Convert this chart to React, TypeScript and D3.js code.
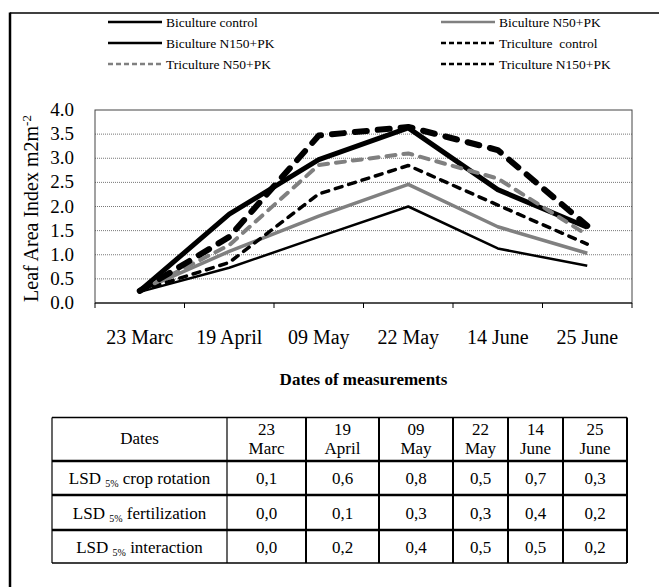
import React, { useEffect, useRef } from 'react';
import * as d3 from 'd3';

const dates = ['23 Marc', '19 April', '09 May', '22 May', '14 June', '25 June'];
const dateTop = ['23', '19', '09', '22', '14', '25'];
const dateBottom = ['Marc', 'April', 'May', 'May', 'June', 'June'];

const bicultureControl = [0.23, 0.73, 1.37, 2.0, 1.13, 0.77];
const bicultureN50 = [0.25, 1.07, 1.8, 2.46, 1.58, 1.03];
const bicultureN150 = [0.25, 1.84, 2.97, 3.63, 2.35, 1.57];
const tricultureControl = [0.25, 0.84, 2.26, 2.85, 2.03, 1.22];
const tricultureN50 = [0.25, 1.2, 2.86, 3.1, 2.58, 1.41];
const tricultureN150 = [0.25, 1.37, 3.47, 3.65, 3.17, 1.6];

const yTicks = [0, 0.5, 1, 1.5, 2, 2.5, 3, 3.5, 4];

const lsdRows = ['crop rotation', 'fertilization', 'interaction'];
const lsdCropRotation = ['0,1', '0,6', '0,8', '0,5', '0,7', '0,3'];
const lsdFertilization = ['0,0', '0,1', '0,3', '0,3', '0,4', '0,2'];
const lsdInteraction = ['0,0', '0,2', '0,4', '0,5', '0,5', '0,2'];

interface Series {
  name: string;
  values: number[];
  color: string;
  width: number;
  dash: string | null;
}

const series: Series[] = [
  { name: 'Biculture control', values: bicultureControl, color: '#000', width: 2.5, dash: null },
  { name: 'Biculture N50+PK', values: bicultureN50, color: '#808080', width: 3.5, dash: null },
  { name: 'Biculture N150+PK', values: bicultureN150, color: '#000', width: 5, dash: null },
  { name: 'Triculture  control', values: tricultureControl, color: '#000', width: 3.5, dash: '7,7' },
  { name: 'Triculture N50+PK', values: tricultureN50, color: '#808080', width: 4, dash: '9,8' },
  { name: 'Triculture N150+PK', values: tricultureN150, color: '#000', width: 6, dash: '12,11' },
];

const W = 659;
const H = 587;
const FONT = "'Liberation Serif', 'Times New Roman', serif";

const Chart: React.FC = () => {
  const svgRef = useRef<SVGSVGElement>(null);

  useEffect(() => {
    if (!svgRef.current) return;
    const svg = d3.select(svgRef.current);
    svg.selectAll('*').remove();

    const txt = (sel: d3.Selection<any, any, any, any>) =>
      sel.append('text').style('font-family', FONT);

    // outer frame (top and left only visible)
    svg.append('line').attr('x1', 10).attr('x2', W).attr('y1', 13).attr('y2', 13)
      .attr('stroke', '#000').attr('stroke-width', 1.5);
    svg.append('line').attr('x1', 10).attr('x2', 10).attr('y1', 12.5).attr('y2', H)
      .attr('stroke', '#000').attr('stroke-width', 2.5);

    // legend
    const legend = svg.selectAll('.legend')
      .data(series)
      .enter()
      .append('g')
      .attr('class', 'legend')
      .attr('transform', (d, i) => `translate(${i % 2 === 0 ? 108 : 441}, ${22 + Math.floor(i / 2) * 21})`);

    legend.append('line')
      .attr('x1', 0).attr('x2', 54)
      .attr('stroke', d => d.color)
      .attr('stroke-width', 2.5)
      .attr('stroke-dasharray', d => (d.dash ? '5,3' : null));

    legend.append('text')
      .style('font-family', FONT)
      .attr('x', 58)
      .attr('y', 4.5)
      .attr('font-size', '13.5px')
      .style('white-space', 'pre')
      .text(d => d.name);

    // plot area
    const left = 95, right = 632, top = 110, bottom = 303;
    const x = d3.scaleBand<string>().domain(dates).range([left, right]);
    const y = d3.scaleLinear().domain([0, 4]).range([bottom, top]);

    svg.append('g')
      .selectAll('line')
      .data(yTicks.filter(t => t > 0 && t < 4))
      .enter()
      .append('line')
      .attr('x1', left).attr('x2', right)
      .attr('y1', d => y(d)).attr('y2', d => y(d))
      .attr('stroke', '#777')
      .attr('stroke-width', 1)
      .attr('stroke-dasharray', '1,1');

    svg.append('rect')
      .attr('x', left).attr('y', top)
      .attr('width', right - left).attr('height', bottom - top)
      .attr('fill', 'none').attr('stroke', '#444').attr('stroke-width', 1);

    svg.append('line').attr('x1', left).attr('x2', right).attr('y1', bottom).attr('y2', bottom)
      .attr('stroke', '#000').attr('stroke-width', 1.2);

    // x ticks at band edges
    const edges = dates.map(d => x(d) as number).concat([right]);
    svg.append('g')
      .selectAll('line')
      .data(edges)
      .enter()
      .append('line')
      .attr('x1', d => d).attr('x2', d => d)
      .attr('y1', bottom).attr('y2', bottom + 5)
      .attr('stroke', '#000');

    svg.append('g')
      .selectAll('text')
      .data(yTicks)
      .enter()
      .append('text')
      .style('font-family', FONT)
      .attr('x', 74)
      .attr('y', d => y(d) + 6)
      .attr('text-anchor', 'end')
      .attr('font-size', '19px')
      .text(d => d.toFixed(1));

    svg.append('g')
      .selectAll('text')
      .data(dates)
      .enter()
      .append('text')
      .style('font-family', FONT)
      .attr('x', d => (x(d) as number) + x.bandwidth() / 2)
      .attr('y', 344)
      .attr('text-anchor', 'middle')
      .attr('font-size', '20px')
      .text(d => d);

    const yTitle = txt(svg)
      .attr('transform', `translate(38, ${(top + bottom) / 2 + 2}) rotate(-90)`)
      .attr('text-anchor', 'middle')
      .attr('font-size', '20px');
    yTitle.append('tspan').text('Leaf Area Index m2m');
    yTitle.append('tspan').attr('font-size', '13px').attr('dy', -7).text('-2');

    txt(svg)
      .attr('x', (left + right) / 2)
      .attr('y', 385)
      .attr('text-anchor', 'middle')
      .attr('font-size', '17px')
      .attr('font-weight', 'bold')
      .text('Dates of measurements');

    const line = d3.line<number>()
      .x((d, i) => (x(dates[i]) as number) + x.bandwidth() / 2)
      .y(d => y(d));

    svg.append('g')
      .selectAll('path')
      .data(series)
      .enter()
      .append('path')
      .attr('d', d => line(d.values))
      .attr('fill', 'none')
      .attr('stroke', d => d.color)
      .attr('stroke-width', d => d.width)
      .attr('stroke-dasharray', d => d.dash)
      .attr('stroke-linecap', d => (d.dash ? 'round' : 'butt'))
      .attr('stroke-linejoin', 'round');

    // LSD table
    const cols = [52, 227, 306, 379, 453, 508, 563, 627];
    const rows = [417.5, 461, 495, 530, 563];
    const table = svg.append('g');
    const lsdValues = [lsdCropRotation, lsdFertilization, lsdInteraction];

    rows.forEach((ry, i) => {
      table.append('line')
        .attr('x1', cols[0]).attr('x2', cols[cols.length - 1])
        .attr('y1', ry).attr('y2', ry)
        .attr('stroke', '#000')
        .attr('stroke-width', i === 0 || i === rows.length - 1 ? 1.5 : 2.5);
    });
    cols.forEach((cx, i) => {
      table.append('line')
        .attr('x1', cx).attr('x2', cx)
        .attr('y1', rows[0]).attr('y2', rows[rows.length - 1])
        .attr('stroke', '#000')
        .attr('stroke-width', i <= 1 ? 1.2 : 2);
    });

    const mid = (a: number, b: number) => (a + b) / 2;

    txt(table)
      .attr('x', mid(cols[0], cols[1]))
      .attr('y', mid(rows[0], rows[1]) + 5)
      .attr('text-anchor', 'middle')
      .attr('font-size', '17px')
      .text('Dates');

    dates.forEach((d, i) => {
      const cx = mid(cols[i + 1], cols[i + 2]);
      txt(table).attr('x', cx).attr('y', rows[0] + 17)
        .attr('text-anchor', 'middle').attr('font-size', '17px').text(dateTop[i]);
      txt(table).attr('x', cx).attr('y', rows[0] + 36)
        .attr('text-anchor', 'middle').attr('font-size', '17px').text(dateBottom[i]);
    });

    lsdRows.forEach((name, r) => {
      const cy = mid(rows[r + 1], rows[r + 2]) + 6;
      const label = txt(table)
        .attr('x', mid(cols[0], cols[1]))
        .attr('y', cy)
        .attr('text-anchor', 'middle')
        .attr('font-size', '17px');
      label.append('tspan').text('LSD ');
      label.append('tspan').attr('font-size', '10px').attr('dy', 3).text('5%');
      label.append('tspan').attr('dy', -3).text(' ' + name);

      lsdValues[r].forEach((v, c) => {
        txt(table)
          .attr('x', mid(cols[c + 1], cols[c + 2]))
          .attr('y', cy)
          .attr('text-anchor', 'middle')
          .attr('font-size', '17px')
          .text(v);
      });
    });
  }, []);

  return (
    <svg
      ref={svgRef}
      width={W}
      height={H}
      style={{ position: 'absolute', left: 0, top: 0, background: '#fff' }}
    />
  );
};

export default function App() {
  return <Chart />;
}
